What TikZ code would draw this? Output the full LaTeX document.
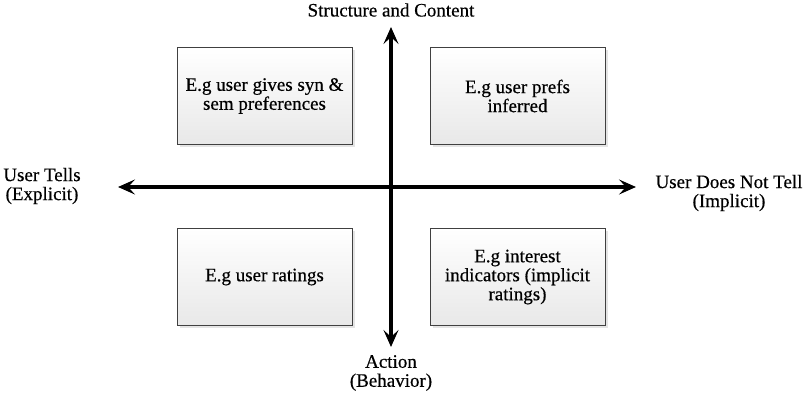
\documentclass[tikz,border=0pt]{standalone}
\usepackage{fontspec}
\setmainfont{Liberation Serif}[FakeBold=0.5]
\usetikzlibrary{arrows.meta,shadows}

\tikzset{
  quadbox/.style={draw=black!75, line width=0.9pt, top color=white, bottom color=black!9,
    minimum width=175pt, minimum height=97pt, align=center, inner sep=2pt,
    drop shadow={shadow xshift=2.5pt, shadow yshift=-2.5pt, opacity=0.3, fill=black!35}},
  axislabel/.style={align=center, inner sep=0pt},
  axisarrow/.style={line width=3.4pt,
    {Stealth[length=17pt,width=15pt,inset=7pt]}-{Stealth[length=17pt,width=15pt,inset=7pt]}}
}

\begin{document}
\begin{tikzpicture}[x=1pt, y=-1pt, font=\fontsize{19}{19}\selectfont]
        \useasboundingbox (0,0) rectangle (807,403);

        % The four quadrants
        \node[quadbox] (tl) at (264.5,96) {E.g user gives syn \&\\sem preferences};
        \node[quadbox] (tr) at (517.5,96) {E.g user prefs\\inferred};
        \node[quadbox] (bl) at (264.5,277) {E.g user ratings};
        \node[quadbox] (br) at (517.5,277) {E.g interest\\indicators (implicit\\ratings)};

        % Ends of the two axes
        \coordinate (north) at (391,27);
        \coordinate (south) at (391,347);
        \coordinate (west) at (118,187);
        \coordinate (east) at (636,187);

        % Draw the axes
        \draw[axisarrow] (south) -- (north);
        \draw[axisarrow] (west) -- (east);

        % Axis labels
        \node[axislabel] (structure) at (391,10) {Structure and Content};
        \node[axislabel] (action) at (391,373) {Action\\(Behavior)};
        \node[axislabel] (tells) at (42,186) {User Tells\\(Explicit)};
        \node[axislabel] (nottells) at (729,193) {User Does Not Tell\\(Implicit)};
    \end{tikzpicture}
\end{document}
